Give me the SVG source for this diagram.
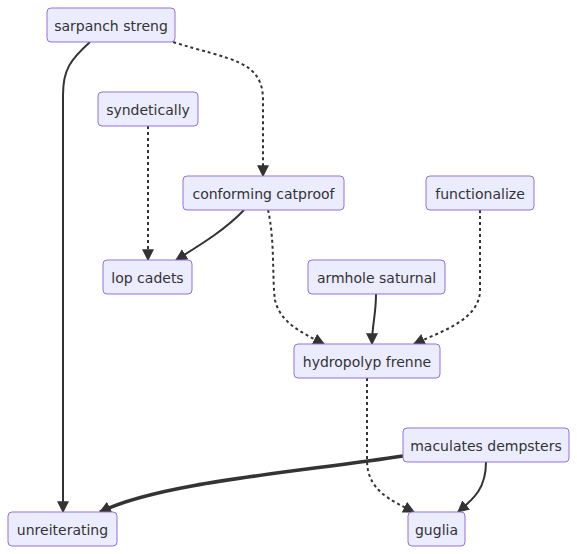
<svg xmlns="http://www.w3.org/2000/svg" width="577" height="554" viewBox="0 0 577 554">
<style>
.node rect{fill:#ECECFF;stroke:#9370DB;stroke-width:1}
.node text{font-family:"DejaVu Sans","Liberation Sans",sans-serif;font-size:14px;fill:#333;text-anchor:middle;dominant-baseline:central}
.edge{fill:none;stroke:#333;stroke-width:2}
.dot{stroke-dasharray:3 3}
.thick{stroke-width:3.5}
</style>
<defs>
<marker id="arr" viewBox="0 0 10 10" refX="9" refY="5" markerUnits="userSpaceOnUse" markerWidth="12" markerHeight="12" orient="auto">
<path d="M0,0 L10,5 L0,10 z" fill="#333"/>
</marker>
</defs>
<rect width="577" height="554" fill="#fff"/>
<g id="connectors">
<path class="edge" d="M90,42 C70,60 63,70 63,95 L63,512" marker-end="url(#arr)"/>
<path class="edge dot" d="M173,42 C230,60 263,60 263,100 L263,176" marker-end="url(#arr)"/>
<path class="edge dot" d="M148,126 L148,260" marker-end="url(#arr)"/>
<path class="edge" d="M244,210 C225,230 200,245 176,260" marker-end="url(#arr)"/>
<path class="edge dot" d="M268,210 C275,240 272,280 275,300 C280,322 300,332 324,344" marker-end="url(#arr)"/>
<path class="edge dot" d="M480,210 L480,290 C480,320 440,332 414,344" marker-end="url(#arr)"/>
<path class="edge" d="M376,294 C376,315 372,325 372,344" marker-end="url(#arr)"/>
<path class="edge dot" d="M367,378 L367,460 C367,490 390,500 414,512" marker-end="url(#arr)"/>
<path class="edge" d="M486,462 C486,490 472,500 458,512" marker-end="url(#arr)"/>
<path class="edge thick" d="M403,456 C300,472 160,482 100,512" marker-end="url(#arr)"/>
</g>
<g id="sarpanch-streng" class="node"><rect x="47" y="8" width="128" height="34" rx="4"/><text x="111" y="25.5">sarpanch streng</text></g>
<g id="syndetically" class="node"><rect x="98" y="92" width="100" height="34" rx="4"/><text x="148" y="109.5">syndetically</text></g>
<g id="conforming-catproof" class="node"><rect x="183" y="176" width="161" height="34" rx="4"/><text x="263.5" y="193.5">conforming catproof</text></g>
<g id="functionalize" class="node"><rect x="426" y="176" width="108" height="34" rx="4"/><text x="480" y="193.5">functionalize</text></g>
<g id="lop-cadets" class="node"><rect x="103" y="260" width="89" height="34" rx="4"/><text x="147.5" y="277.5">lop cadets</text></g>
<g id="armhole-saturnal" class="node"><rect x="308" y="260" width="137" height="34" rx="4"/><text x="376.5" y="277.5">armhole saturnal</text></g>
<g id="hydropolyp-frenne" class="node"><rect x="294" y="344" width="146" height="34" rx="4"/><text x="367" y="361.5">hydropolyp frenne</text></g>
<g id="maculates-dempsters" class="node"><rect x="403" y="428" width="166" height="34" rx="4"/><text x="486" y="445.5">maculates dempsters</text></g>
<g id="unreiterating" class="node"><rect x="8" y="512" width="109" height="34" rx="4"/><text x="62.5" y="529.5">unreiterating</text></g>
<g id="guglia" class="node"><rect x="408" y="512" width="57" height="34" rx="4"/><text x="436.5" y="529.5">guglia</text></g>
</svg>
